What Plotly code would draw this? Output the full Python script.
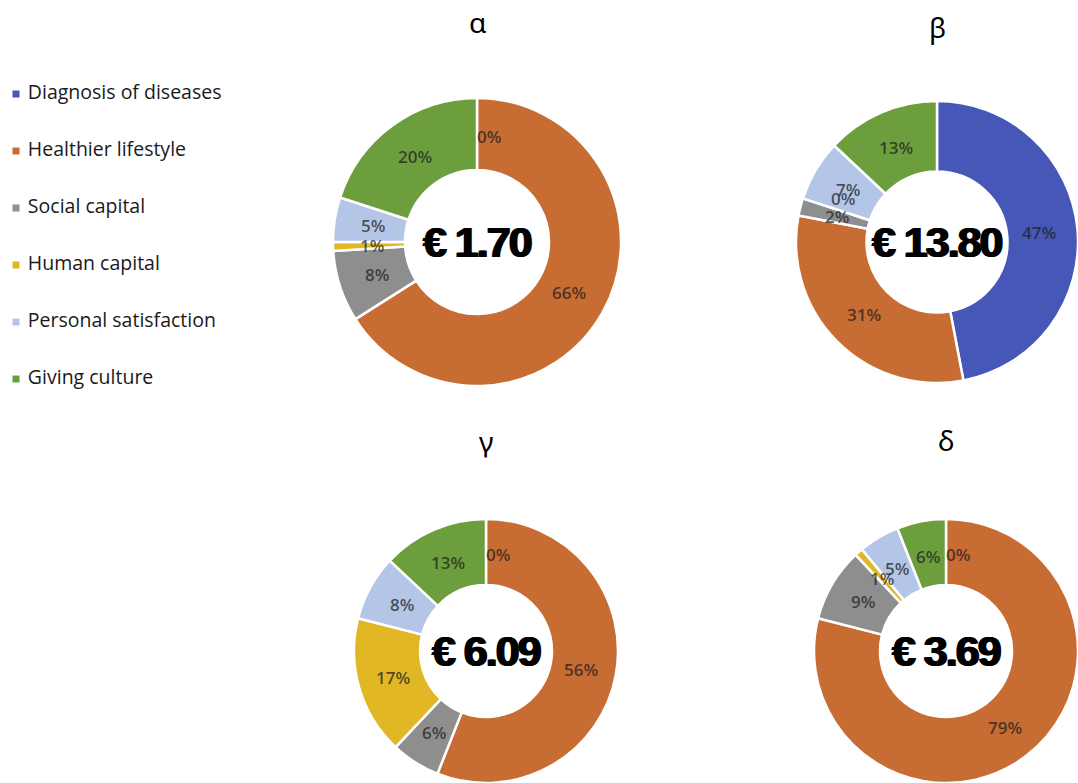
import math
import plotly.graph_objects as go

# Benefit categories (slice order, clockwise from 12 o'clock)
categories = ["Diagnosis of diseases", "Healthier lifestyle", "Social capital",
              "Human capital", "Personal satisfaction", "Giving culture"]
colors = ["#4757B7", "#C76C33", "#8E8E8E", "#E2B726", "#B4C6E7", "#6C9E3E"]

# Share (%) of each category per scenario
titles = ["α", "β", "γ", "δ"]
totals = ["€ 1.70", "€ 13.80", "€ 6.09", "€ 3.69"]
share_alpha = [0, 66, 8, 1, 5, 20]
share_beta = [47, 31, 2, 0, 7, 13]
share_gamma = [0, 56, 6, 17, 8, 13]
share_delta = [0, 79, 9, 1, 5, 6]
shares = [share_alpha, share_beta, share_gamma, share_delta]

W, H = 1078, 783
# donut layout in pixels: centre x, centre y (from top), outer radius, title y
placement = [(477, 242, 144, 22), (937, 242, 141, 27), (486, 651, 132, 441), (946, 651, 132, 440)]
HOLE = 0.5
LABEL_R = 0.73
ZERO_NUDGE = 12  # px, tangential (clockwise) offset for labels of empty slices

fig = go.Figure()
annotations = []

for title, total, vals, (cx, cy, r, ty) in zip(titles, totals, shares, placement):
    x0 = max(0.0, (cx - r) / W)
    x1 = min(1.0, (cx + r) / W)
    y0 = max(0.0, (H - cy - r) / H)
    y1 = min(1.0, (H - cy + r) / H)
    fig.add_trace(go.Pie(
        labels=categories, values=vals, sort=False, direction="clockwise",
        rotation=0, hole=HOLE, textinfo="none", showlegend=False,
        marker=dict(colors=colors, line=dict(color="white", width=2.5)),
        domain=dict(x=[x0, x1], y=[y0, y1]),
    ))
    # percentage labels at slice mid-angles
    tot = sum(vals)
    cum = 0.0
    for v in vals:
        theta = math.radians(360.0 * (cum + v / 2.0) / tot)
        cum += v
        px = cx + LABEL_R * r * math.sin(theta)
        py = cy - LABEL_R * r * math.cos(theta)
        xs = ys = 0
        if v == 0:
            xs = ZERO_NUDGE * math.cos(theta)
            ys = -ZERO_NUDGE * math.sin(theta)
        annotations.append(dict(
            x=px / W, y=(H - py) / H, xref="paper", yref="paper",
            text=f"{v}%", showarrow=False, xanchor="center", yanchor="middle",
            xshift=xs, yshift=ys,
            font=dict(family="Open Sans, sans-serif", size=17, weight=600,
                      color="rgba(30,30,30,0.74)"),
        ))
    # total value in the hole
    annotations.append(dict(
        x=cx / W, y=(H - cy) / H, xref="paper", yref="paper",
        text=f'<span style="letter-spacing:-2px">{total}</span>',
        showarrow=False, xanchor="center", yanchor="middle",
        font=dict(family="Liberation Sans, Arial, sans-serif",
                  size=43, weight="bold", color="black",
                  shadow="1px 0px 0px black, -1px 0px 0px black"),
    ))
    # scenario title
    annotations.append(dict(
        x=cx / W, y=(H - ty) / H, xref="paper", yref="paper", text=title,
        showarrow=False, xanchor="center", yanchor="middle",
        font=dict(family="Noto Sans, sans-serif", size=28, color="black"),
    ))

# legend drawn as a marker/text column
idx = list(range(len(categories)))
fig.add_trace(go.Scatter(
    x=[0] * len(categories), y=idx, mode="markers+text",
    marker=dict(symbol="square", size=7, color=colors),
    text=["\u2004" + c for c in categories], textposition="middle right",
    textfont=dict(family="Open Sans, sans-serif", size=19.5, color="#1a1a1a"),
    showlegend=False, hoverinfo="skip", cliponaxis=False,
))

fig.update_layout(
    width=W, height=H, margin=dict(l=0, r=0, t=0, b=0),
    paper_bgcolor="white", plot_bgcolor="white",
    annotations=annotations,
    xaxis=dict(domain=[0, 0.3], range=[-1, 19.2], visible=False, fixedrange=True),
    yaxis=dict(domain=[0, 1], range=[(H - 94) / 57.0, -94 / 57.0], visible=False,
               fixedrange=True),
)

fig.write_html("out.html")
